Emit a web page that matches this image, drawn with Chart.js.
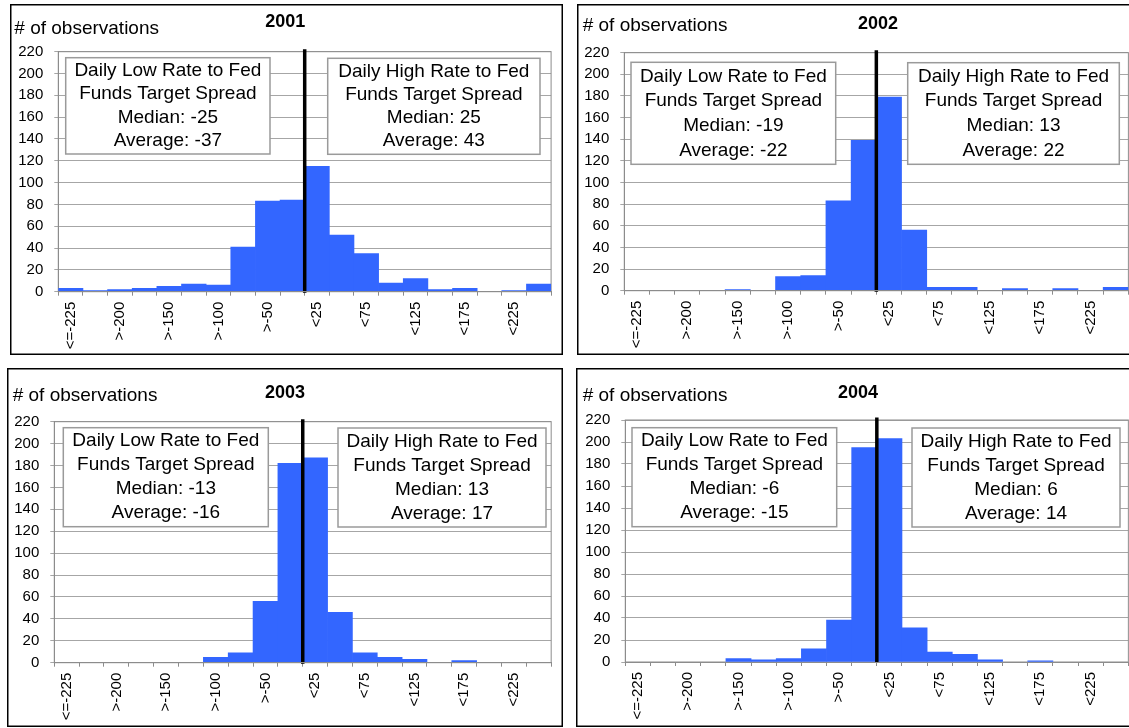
<!DOCTYPE html>
<html>
<head>
<meta charset="utf-8">
<script src="https://cdn.jsdelivr.net/npm/chart.js@4.4.0/dist/chart.umd.min.js"></script>
<style>
  html, body { margin: 0; padding: 0; background: #fff; overflow: hidden; }
  body { width: 1129px; height: 728px; position: relative; }
  canvas { position: absolute; }
</style>
</head>
<body>
<canvas id="p0"></canvas>
<canvas id="p1"></canvas>
<canvas id="p2"></canvas>
<canvas id="p3"></canvas>
<script>
// --data--
const years = ['2001', '2002', '2003', '2004'];
const categories = ['<=-225', '>-225', '>-200', '>-175', '>-150', '>-125', '>-100', '>-75', '>-50', '>-25',
                    '<25', '<50', '<75', '<100', '<125', '<150', '<175', '<200', '<225', '>=225'];
const obs2001 = [3, 1, 2, 3, 5, 7, 6, 41, 83, 84, 115, 52, 35, 8, 12, 2, 3, 0, 1, 7];
const obs2002 = [0, 0, 0, 0, 1, 0, 13, 14, 83, 139, 179, 56, 3, 3, 0, 2, 0, 2, 0, 3];
const obs2003 = [0, 0, 0, 0, 0, 0, 5, 9, 56, 182, 187, 46, 9, 5, 3, 0, 2, 0, 0, 0];
const obs2004 = [0, 0, 0, 0, 3, 2, 3, 12, 38, 195, 203, 31, 9, 7, 2, 0, 1, 0, 0, 0];
const lowMedian = [-25, -19, -13, -6];
const lowAverage = [-37, -22, -16, -15];
const highMedian = [25, 13, 13, 6];
const highAverage = [43, 22, 17, 14];
const yTicks = [0, 20, 40, 60, 80, 100, 120, 140, 160, 180, 200, 220];
const zeroBetween = ['>-25', '<25'];
const series = [obs2001, obs2002, obs2003, obs2004];
// -----------

const FONT = '"Liberation Sans", Arial, sans-serif';

// panel placement on the page, everything else relative to the panel
const panels = [
  { left: 10, top: 4, width: 553, height: 351, plot: [48.3, 47.7, 544, 287.7],
    yearX: 275.3, yearY: 17.7, obsX: 4.3, obsY: 25,
    lowBox: [55.7, 53.7, 204.3, 96.3], highBox: [317.7, 54.3, 212.3, 96] },
  { left: 577, top: 4, width: 563, height: 351, plot: [47.3, 48.7, 554.3, 286.7],
    yearX: 301, yearY: 20.5, obsX: 5.7, obsY: 21.5,
    lowBox: [54, 58.3, 204.7, 102], highBox: [330.7, 58.7, 211.6, 101.6] },
  { left: 7, top: 368, width: 556, height: 359, plot: [47.3, 53.7, 546.3, 294.7],
    yearX: 278, yearY: 25, obsX: 5.7, obsY: 27.3,
    lowBox: [56.3, 59.7, 205, 99], highBox: [331, 60, 208, 99] },
  { left: 576, top: 368, width: 564, height: 359, plot: [49.3, 52, 555.3, 294],
    yearX: 282, yearY: 25, obsX: 6.7, obsY: 27.3,
    lowBox: [56, 59.7, 204.7, 99], highBox: [336, 60, 208, 99] }
];

const Y_AXIS_W = 40;
const X_AXIS_H = 60;

const drawBox = (ctx, box, lines) => {
  const [x, y, w, h] = box;
  ctx.fillStyle = '#fff';
  ctx.fillRect(x, y, w, h);
  ctx.strokeStyle = '#9a9a9a';
  ctx.lineWidth = 1.5;
  ctx.strokeRect(x, y, w, h);
  const step = h * 0.242;
  const first = y + h / 2 - step * 1.5;
  ctx.fillStyle = '#000';
  ctx.font = '19px ' + FONT;
  ctx.textAlign = 'center';
  ctx.textBaseline = 'middle';
  lines.forEach((t, i) => ctx.fillText(t, x + w / 2, first + step * i));
};

const panelDecor = {
  id: 'panelDecor',
  beforeDraw(chart) {
    const { ctx, width, height } = chart;
    ctx.save();
    ctx.strokeStyle = '#000';
    ctx.lineWidth = 1.5;
    ctx.strokeRect(0.75, 0.75, width - 1.5, height - 1.5);
    ctx.restore();
  },
  beforeDatasetsDraw(chart) {
    // gray frame round the plot area
    const { ctx, chartArea: a } = chart;
    ctx.save();
    ctx.strokeStyle = '#8c8c8c';
    ctx.lineWidth = 1;
    ctx.strokeRect(a.left, a.top, a.right - a.left, a.bottom - a.top);
    ctx.restore();
  },
  afterDatasetsDraw(chart, args, opts) {
    const { ctx, chartArea: a, scales } = chart;
    const p = opts.panel;
    ctx.save();
    drawBox(ctx, p.lowBox, opts.lowLines);
    drawBox(ctx, p.highBox, opts.highLines);

    // --black line at zero spread--
    const i0 = categories.indexOf(zeroBetween[0]);
    const i1 = categories.indexOf(zeroBetween[1]);
    const xz = (scales.x.getPixelForTick(i0) + scales.x.getPixelForTick(i1)) / 2;
    ctx.strokeStyle = '#000';
    ctx.lineWidth = 3.5;
    ctx.beginPath();
    ctx.moveTo(xz, a.top - 2.5);
    ctx.lineTo(xz, scales.y.getPixelForValue(0) + 1);
    ctx.stroke();

    // --titles--
    ctx.fillStyle = '#000';
    ctx.textBaseline = 'middle';
    ctx.font = '19px ' + FONT;
    ctx.textAlign = 'left';
    ctx.fillText('# of observations', p.obsX, p.obsY);
    ctx.font = 'bold 18px ' + FONT;
    ctx.textAlign = 'center';
    ctx.fillText(opts.year, p.yearX, p.yearY);
    ctx.restore();
  }
};

const makeChart = (idx) => {
  const p = panels[idx];
  const canvas = document.getElementById('p' + idx);
  canvas.width = p.width;
  canvas.height = p.height;
  canvas.style.left = p.left + 'px';
  canvas.style.top = p.top + 'px';
  const [pl, pt, pr, pb] = p.plot;

  new Chart(canvas, {
    type: 'bar',
    data: {
      labels: categories,
      datasets: [{
        data: series[idx],
        backgroundColor: '#3366ff',
        borderWidth: 0,
        // no hairline for empty bins
        inflateAmount: c => (c.raw === 0 ? 0 : 0.33),
        barPercentage: 1,
        categoryPercentage: 1
      }]
    },
    options: {
      responsive: false,
      animation: false,
      layout: {
        padding: { left: pl - Y_AXIS_W, top: pt, right: p.width - pr, bottom: p.height - pb - X_AXIS_H }
      },
      plugins: {
        legend: { display: false },
        tooltip: { enabled: false },
        panelDecor: {
          panel: p,
          year: years[idx],
          lowLines: ['Daily Low Rate to Fed', 'Funds Target Spread', 'Median: ' + lowMedian[idx], 'Average: ' + lowAverage[idx]],
          highLines: ['Daily High Rate to Fed', 'Funds Target Spread', 'Median: ' + highMedian[idx], 'Average: ' + highAverage[idx]]
        }
      },
      scales: {
        x: {
          offset: true,
          afterFit: s => { s.height = X_AXIS_H; },
          grid: { offset: true, drawOnChartArea: false, drawTicks: true, tickLength: 4, color: '#8c8c8c' },
          border: { color: '#8c8c8c', z: 1 },
          ticks: {
            autoSkip: false, minRotation: 90, maxRotation: 90, padding: 6,
            color: '#000', font: { family: FONT, size: 15 },
            callback: function (value, index) { return index % 2 === 0 ? this.getLabelForValue(value) : ''; }
          }
        },
        y: {
          min: yTicks[0],
          max: yTicks[yTicks.length - 1],
          afterFit: s => { s.width = Y_AXIS_W; },
          afterBuildTicks: s => { s.ticks = yTicks.map(v => ({ value: v })); },
          grid: { color: '#a6a6a6', tickLength: 4 },
          border: { color: '#8c8c8c' },
          ticks: { padding: 11, color: '#000', font: { family: FONT, size: 15 } }
        }
      }
    },
    plugins: [panelDecor]
  });
};

years.forEach((y, i) => makeChart(i));
</script>
</body>
</html>
